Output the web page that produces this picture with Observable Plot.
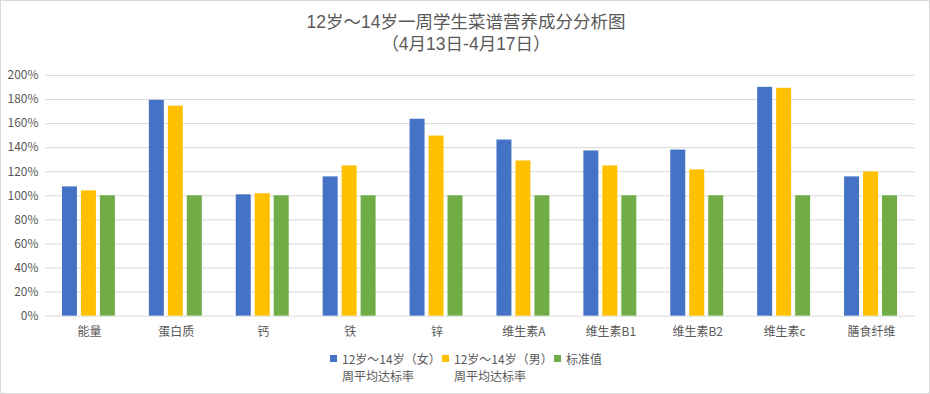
<!DOCTYPE html>
<html>
<head>
<meta charset="utf-8">
<script src="https://cdn.jsdelivr.net/npm/d3@7"></script>
<script src="https://cdn.jsdelivr.net/npm/@observablehq/plot@0.6"></script>
<style>
  html, body { margin: 0; padding: 0; background: #fff; }
  #chart { position: relative; width: 930px; height: 394px; box-sizing: border-box; border: 1px solid #d9d9d9; overflow: hidden; font-family: "Noto Sans CJK SC", "Noto Sans", sans-serif; color: #595959; }
  #plot { position: absolute; left: -1px; top: -1px; }
  .title { position: absolute; left: 0; top: 11px; width: 930px; text-align: center; font-family: "Liberation Sans", "Noto Sans CJK SC", sans-serif; font-size: 17.5px; color: #595959; line-height: 21.5px; }
  .legend { position: absolute; font-size: 12px; line-height: 17px; color: #595959; white-space: pre; }
  .legend .sw { position: absolute; left: -12px; top: 5px; width: 7px; height: 7px; }
</style>
</head>
<body>
<div id="chart">
  <div class="title">12岁～14岁一周学生菜谱营养成分分析图<br>（4月13日-4月17日）</div>
  <div id="plot"></div>
</div>
<script>
const categories = ["能量","蛋白质","钙","铁","锌","维生素A","维生素B1","维生素B2","维生素c","膳食纤维"];
const seriesNames = ["12岁～14岁（女）周平均达标率","12岁～14岁（男）周平均达标率","标准值"];
const legendLines = [["12岁～14岁（女）","周平均达标率"],["12岁～14岁（男）","周平均达标率"],["标准值"]];
const girls = [1.074, 1.793, 1.008, 1.157, 1.636, 1.463, 1.372, 1.38, 1.901, 1.157];
const boys = [1.041, 1.744, 1.017, 1.248, 1.496, 1.289, 1.248, 1.215, 1.893, 1.198];
const standard = [1, 1, 1, 1, 1, 1, 1, 1, 1, 1];
const yTicks = [0, 0.2, 0.4, 0.6, 0.8, 1.0, 1.2, 1.4, 1.6, 1.8, 2.0];
const colors = ["#4472C4", "#FFC000", "#70AD47"];

const data = [];
categories.forEach((c, i) => {
  data.push({cat: c, series: seriesNames[0], value: girls[i]});
  data.push({cat: c, series: seriesNames[1], value: boys[i]});
  data.push({cat: c, series: seriesNames[2], value: standard[i]});
});

const chart = Plot.plot({
  width: 930,
  height: 394,
  marginTop: 75,
  marginBottom: 78,
  marginLeft: 45,
  marginRight: 15,
  style: {fontSize: "12px", fontFamily: "'Noto Sans CJK SC', 'Noto Sans', sans-serif", color: "#595959", background: "transparent"},
  fx: {domain: categories, paddingInner: 0.38, paddingOuter: 0.19, label: null, axis: "bottom", tickSize: 0, tickPadding: 11},
  x: {domain: seriesNames, paddingInner: 0.2, paddingOuter: 0, axis: null},
  y: {domain: [0, 2], ticks: yTicks, tickFormat: d3.format(".0%"), label: null, tickSize: 0, tickPadding: 24},
  color: {domain: seriesNames, range: colors},
  marks: [
    Plot.ruleY(yTicks, {stroke: "#d9d9d9", strokeWidth: 1, insetLeft: -16.6, insetRight: -16.6}),
    Plot.barY(data, {fx: "cat", x: "series", y: "value", fill: "series"})
  ]
});
document.getElementById("plot").appendChild(chart);

const chartDiv = document.getElementById("chart");
const legendX = [341, 453, 565];
legendLines.forEach((lines, i) => {
  const d = document.createElement("div");
  d.className = "legend";
  d.style.left = legendX[i] + "px";
  d.style.top = "349px";
  const sw = document.createElement("span");
  sw.className = "sw";
  sw.style.background = colors[i];
  d.appendChild(sw);
  d.appendChild(document.createTextNode(lines.join("\n")));
  chartDiv.appendChild(d);
});
</script>
</body>
</html>
